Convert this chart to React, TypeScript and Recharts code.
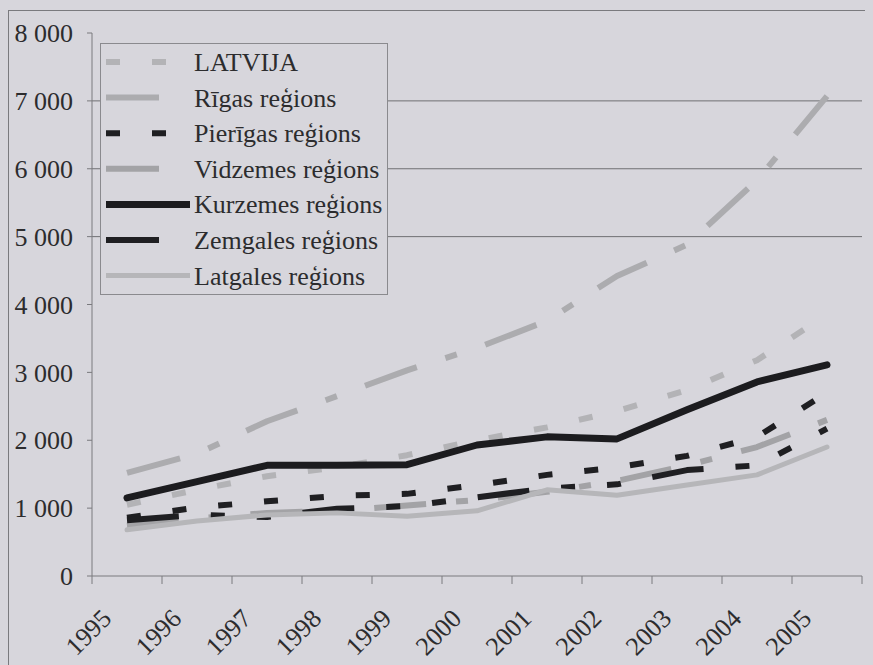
import React from "react";
import {
  LineChart,
  Line,
  XAxis,
  YAxis,
  Legend,
  ReferenceLine,
} from "recharts";

// years on the x axis
const years = [1995, 1996, 1997, 1998, 1999, 2000, 2001, 2002, 2003, 2004, 2005];

// series values
const latvija = [1050, 1270, 1470, 1600, 1780, 2000, 2190, 2430, 2740, 3180, 3850];
const rigas = [1520, 1800, 2280, 2650, 3030, 3360, 3760, 4420, 4880, 5830, 7070];
const pierigas = [860, 1010, 1100, 1180, 1210, 1340, 1490, 1600, 1770, 2050, 2700];
const vidzemes = [740, 850, 930, 960, 1040, 1120, 1240, 1400, 1630, 1900, 2300];
const kurzemes = [1150, 1390, 1630, 1630, 1640, 1930, 2050, 2020, 2450, 2860, 3110];
const zemgales = [820, 900, 870, 990, 1030, 1160, 1290, 1350, 1560, 1630, 2170];
const latgales = [680, 810, 900, 930, 880, 960, 1270, 1190, 1340, 1490, 1900];

const yTicks = [0, 1000, 2000, 3000, 4000, 5000, 6000, 7000, 8000];
const gridValues = [5000, 6000, 7000];

const data = years.map((year, i) => ({
  year,
  latvija: latvija[i],
  rigas: rigas[i],
  pierigas: pierigas[i],
  vidzemes: vidzemes[i],
  kurzemes: kurzemes[i],
  zemgales: zemgales[i],
  latgales: latgales[i],
}));

// tick marks sit between the years, labels on the years
const xTicks = [...years.flatMap((y) => [y - 0.5, y]), years[years.length - 1] + 0.5];

const BG = "#d7d6dc";
const AXIS = "#7a7a7e";
const TEXT = "#2c2c2e";
const FONT = '"Liberation Serif", "DejaVu Serif", serif';

const series = [
  { key: "latvija", name: "LATVIJA", color: "#b3b3b6", width: 6, dash: "14 32", cap: "butt", sample: 60 },
  { key: "rigas", name: "Rīgas reģions", color: "#acacaf", width: 6, dash: "55 30 12 30", cap: "butt", sample: 53 },
  { key: "pierigas", name: "Pierīgas reģions", color: "#1f1f22", width: 6, dash: "14 32", cap: "butt", sample: 60 },
  { key: "vidzemes", name: "Vidzemes reģions", color: "#a3a3a6", width: 6, dash: "52 30 12 30", cap: "butt", sample: 53 },
  { key: "kurzemes", name: "Kurzemes reģions", color: "#1c1c1f", width: 7, dash: undefined, cap: "round", sample: 84 },
  { key: "zemgales", name: "Zemgales reģions", color: "#1f1f22", width: 6, dash: "52 32 14 32 14 32", cap: "butt", sample: 53 },
  { key: "latgales", name: "Latgales reģions", color: "#b6b6b9", width: 5, dash: undefined, cap: "round", sample: 84 },
];

function XTick(props: any) {
  const { x, y, payload } = props;
  const v = payload.value as number;
  if (v % 1 !== 0) {
    return <line x1={x} y1={y} x2={x} y2={y + 8} stroke={AXIS} strokeWidth={1} />;
  }
  const ax = x - 14;
  const ay = y + 44;
  return (
    <text
      x={ax}
      y={ay}
      textAnchor="end"
      transform={`rotate(-45 ${ax} ${ay})`}
      fontSize={26}
      style={{ fontFamily: FONT }}
      fill={TEXT}
    >
      {v}
    </text>
  );
}

function LegendBox() {
  const rowH = 35.6;
  return (
    <svg width={288} height={252} style={{ display: "block" }}>
      <rect x={0.5} y={0.5} width={287} height={251} fill={BG} stroke="#8a8a8e" strokeWidth={1} />
      {series.map((s, i) => {
        const cy = 19 + i * rowH;
        return (
          <g key={s.key}>
            <line
              x1={6}
              y1={cy}
              x2={6 + s.sample}
              y2={cy}
              stroke={s.color}
              strokeWidth={s.width}
              strokeDasharray={s.key === "latvija" || s.key === "pierigas" ? s.dash : undefined}
            />
            <text x={94} y={cy + 9} fontSize={26} style={{ fontFamily: FONT }} fill={TEXT}>
              {s.name}
            </text>
          </g>
        );
      })}
    </svg>
  );
}

export default function App() {
  return (
    <div style={{ position: "relative", width: 865, height: 657, background: BG }}>
      <style>{`html, body { background: ${BG}; overflow: hidden; } body { margin: 8px; }`}</style>
      <div
        style={{
          position: "absolute",
          left: 0,
          top: 2,
          right: -8,
          bottom: 0,
          borderTop: `1px solid ${AXIS}`,
          borderLeft: `1px solid ${AXIS}`,
        }}
      />
      <div style={{ position: "absolute", left: 0, top: 0 }}>
        <LineChart
          width={865}
          height={657}
          data={data}
          margin={{ top: 25, right: 11, left: 0, bottom: 0 }}
          style={{ fontFamily: FONT }}
        >
          {gridValues.map((g) => (
            <ReferenceLine key={g} y={g} stroke="#6f6f73" strokeWidth={1} />
          ))}
          <XAxis
            dataKey="year"
            type="number"
            domain={[1994.5, 2005.5]}
            ticks={xTicks}
            interval={0}
            tickLine={false}
            tickSize={0}
            tickMargin={0}
            height={89}
            tick={<XTick />}
            axisLine={{ stroke: AXIS }}
          />
          <YAxis
            domain={[0, 8000]}
            ticks={yTicks}
            interval={0}
            width={84}
            tickSize={5}
            tickMargin={14}
            axisLine={{ stroke: AXIS }}
            tickLine={{ stroke: AXIS }}
            tick={{ fontSize: 26, fill: TEXT, style: { fontFamily: FONT } }}
            tickFormatter={(v: number) => (v === 0 ? "0" : `${v / 1000} 000`)}
          />
          {series.map((s) => (
            <Line
              key={s.key}
              type="linear"
              dataKey={s.key}
              name={s.name}
              stroke={s.color}
              strokeWidth={s.width}
              strokeDasharray={s.dash}
              strokeLinecap={s.cap as any}
              strokeLinejoin="round"
              dot={false}
              activeDot={false}
              isAnimationActive={false}
            />
          ))}
          <Legend
            layout="horizontal"
            verticalAlign="middle"
            align="center"
            content={() => <LegendBox />}
            wrapperStyle={{ left: 92, top: 35, width: 288, height: 252 }}
          />
        </LineChart>
      </div>
    </div>
  );
}
